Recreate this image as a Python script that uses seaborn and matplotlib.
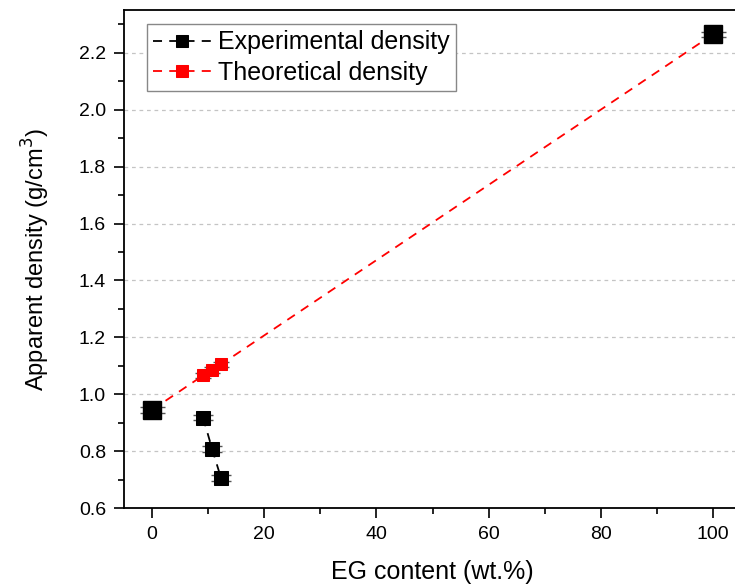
import numpy as np
import pandas as pd
import matplotlib
matplotlib.use("Agg")
import matplotlib.pyplot as plt
import seaborn as sns
from matplotlib.ticker import MultipleLocator

# Values
eg_mid = [9.1, 10.7, 12.3]
exp_mid = [0.918, 0.808, 0.705]
exp_mid_err = [0.010, 0.010, 0.010]

eg_theo = [0, 9.1, 10.7, 12.3, 100]
theo_density = [0.945, 1.066, 1.086, 1.105, 2.265]
theo_err = [0.0, 0.010, 0.010, 0.010, 0.0]

eg_ends = [0, 100]
exp_ends = [0.945, 2.265]
exp_ends_err = [0.010, 0.010]

sns.set_style("ticks")
plt.rcParams["font.family"] = ["Liberation Sans", "DejaVu Sans"]
plt.rcParams["text.color"] = "black"
plt.rcParams["axes.labelcolor"] = "black"
plt.rcParams["xtick.color"] = "black"
plt.rcParams["ytick.color"] = "black"

fig = plt.figure(figsize=(7.35, 5.85), dpi=100)
ax = fig.add_axes([0.1687, 0.1316, 0.8396, 0.851])

theo = pd.DataFrame({"EG": eg_theo, "density": theo_density})
exp = pd.DataFrame({"EG": eg_mid, "density": exp_mid})

# theoretical line (red dashed)
ax.errorbar(eg_theo, theo_density, yerr=theo_err, fmt="none", ecolor="#555555",
            elinewidth=1, capsize=6, capthick=1, zorder=2)
sns.lineplot(data=theo, x="EG", y="density", ax=ax, color="red", lw=1.3,
             linestyle=(0, (5, 4)), marker="s", markersize=8, markeredgecolor="red",
             label="Theoretical density", zorder=3)

# experimental points
ax.errorbar(eg_mid, exp_mid, yerr=exp_mid_err, fmt="none", ecolor="#555555",
            elinewidth=1, capsize=7, capthick=1, zorder=4)
sns.lineplot(data=exp, x="EG", y="density", ax=ax, color="black", lw=1.3,
             linestyle=(0, (5, 4)), marker="s", markersize=10, markeredgecolor="black",
             label="Experimental density", zorder=5)
ax.errorbar(eg_ends, exp_ends, yerr=exp_ends_err, fmt="none", ecolor="#555555",
            elinewidth=1, capsize=9, capthick=1, zorder=6)
ax.plot(eg_ends, exp_ends, ls="none", marker="s", markersize=13, color="black", zorder=7)

ax.set_xlim(-5, 105)
ax.set_ylim(0.6, 2.35)
ax.xaxis.set_major_locator(MultipleLocator(20))
ax.xaxis.set_minor_locator(MultipleLocator(10))
ax.yaxis.set_major_locator(MultipleLocator(0.2))
ax.yaxis.set_minor_locator(MultipleLocator(0.1))
ax.yaxis.set_major_formatter(matplotlib.ticker.FormatStrFormatter("%.1f"))
ax.yaxis.grid(True, which="major", ls=(0, (3, 3)), color="#c4c4c4", lw=0.9)
ax.set_axisbelow(True)

ax.tick_params(which="major", length=7, width=1.2, labelsize=14, pad=6, color="black")
ax.tick_params(which="minor", length=4, width=1.2, color="black")
for s in ax.spines.values():
    s.set_linewidth(1.3)
    s.set_color("black")

ax.set_xlabel("EG content (wt.%)", fontsize=18, labelpad=12)
ax.set_ylabel("Apparent density (g/cm$^3$)", fontsize=17, labelpad=19)

handles, labels = ax.get_legend_handles_labels()
order = [labels.index("Experimental density"), labels.index("Theoretical density")]
leg = ax.legend([handles[i] for i in order], [labels[i] for i in order],
                loc="upper left", bbox_to_anchor=(0.037, 0.972), fontsize=18,
                frameon=True, fancybox=False, edgecolor="#888888", framealpha=1,
                handlelength=2.3, handletextpad=0.3, borderpad=0.25, labelspacing=0.25,
                borderaxespad=0)
leg.get_frame().set_linewidth(1.0)
for h in leg.legend_handles:
    h.set_markersize(8)

fig.savefig("out.png", dpi=100)
